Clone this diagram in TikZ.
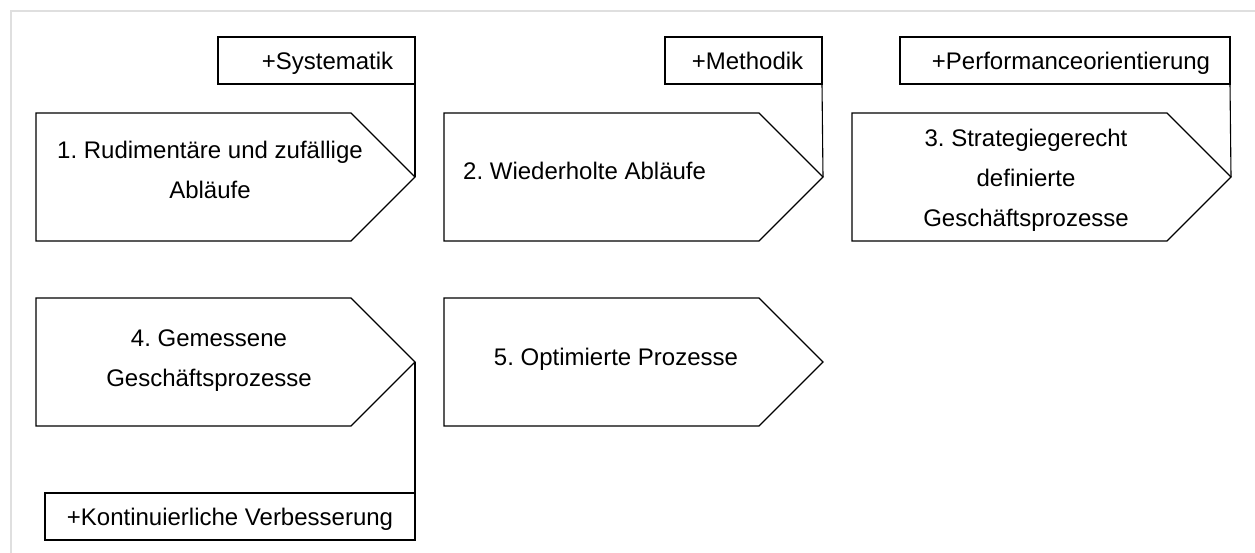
\documentclass[tikz,border=0pt]{standalone}
\usepackage{fontspec}
\setmainfont{Liberation Sans}
\frenchspacing
\usetikzlibrary{shapes.symbols}
\begin{document}
\begin{tikzpicture}[x=1pt,y=-1pt,
  stage/.style={draw, line width=1.1pt, shape=signal, signal to=east,
    signal from=nowhere, minimum width=379pt, minimum height=128pt,
    inner sep=0pt, outer sep=0pt, anchor=west},
  stagetext/.style={font=\fontsize{24}{40}\selectfont, align=center,
    inner sep=0pt, anchor=base},
  tag/.style={draw, line width=1.1pt, inner sep=0pt, outer sep=0pt,
    minimum height=47pt, anchor=north west, text height=17.2pt,
    text depth=0pt, font=\fontsize{24}{28}\selectfont},
  link/.style={line width=1.1pt}
]
\useasboundingbox (0,0) rectangle (1255,553);
\fill[white] (0,0) rectangle (1255,553);
% light frame along the top and left
\draw[gray!25, line width=2pt] (11,553) -- (11,11) -- (1255,11);

% maturity stages
\node[stage] (p1) at (36,177) {};
\node[stage] (p2) at (444,177) {};
\node[stage] (p3) at (852,177) {};
\node[stage] (p4) at (36,362) {};
\node[stage] (p5) at (444,362) {};

% multi-line texts are placed by the baseline of their last line
\node[stagetext] (t1) at (210,199) {1. Rudimentäre und zufällige\\Abläufe};
\node[stagetext, anchor=base west] (t2) at (463,180) {2. Wiederholte Abläufe};
\node[stagetext] (t3) at (1026,227) {3. Strategiegerecht\\definierte\\Geschäftsprozesse};
\node[stagetext] (t4) at (209,386) {4. Gemessene\\Geschäftsprozesse};
\node[stagetext] (t5) at (616,365) {5. Optimierte Prozesse};

% improvements between stages
\node[tag, minimum width=197pt] (s1) at (218,37) {\hspace{22pt}+Systematik};
\node[tag, minimum width=157pt] (s2) at (665,37) {\hspace{8pt}+Methodik};
\node[tag, minimum width=330pt] (s3) at (900,37) {\hspace{12pt}+Performanceorientierung};
\node[tag, minimum width=370pt] (s4) at (45,493) {+Kontinuierliche Verbesserung\hspace{9pt}};

\draw[link] (s1.south east) -- (p1.east);
\draw[link] (s2.south east) -- (p2.east);
\draw[link] (s3.south east) -- (p3.east);
\draw[link] (p4.east) -- (s4.north east);
\end{tikzpicture}
\end{document}
